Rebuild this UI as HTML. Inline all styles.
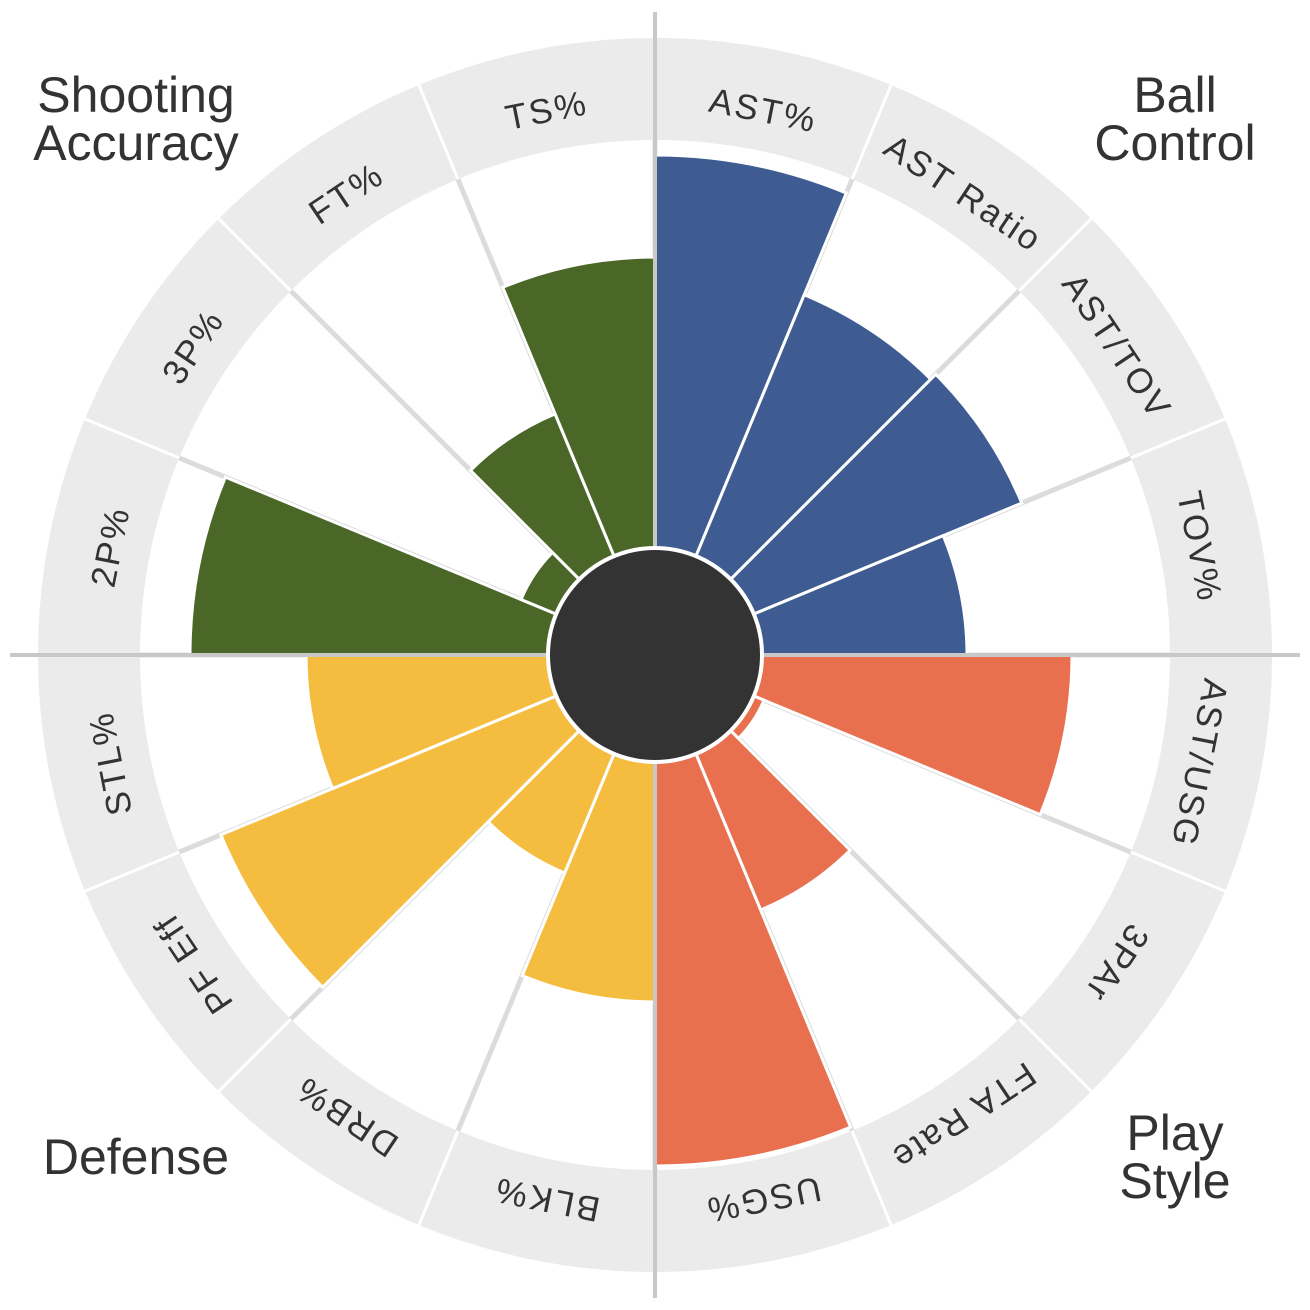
<!DOCTYPE html>
<html><head><meta charset="utf-8"><style>
html,body{margin:0;padding:0;background:#fff;}
svg{display:block;}
text{font-family:"Liberation Sans",sans-serif;fill:#333;}
</style></head><body>
<svg id="s" width="1310" height="1310" viewBox="0 0 1310 1310" xmlns="http://www.w3.org/2000/svg">
<circle cx="655" cy="655" r="617" fill="#ebebeb"/>
<circle cx="655" cy="655" r="515" fill="#fff"/>
<g id="seps"></g>
<g id="bars"></g>
<line x1="655" y1="12" x2="655" y2="1298" stroke="#c8c8c8" stroke-width="4"/>
<line x1="10" y1="655" x2="1300" y2="655" stroke="#c8c8c8" stroke-width="4"/>
<circle cx="655" cy="655" r="107" fill="#333" stroke="#fff" stroke-width="4"/>
<g font-size="35" letter-spacing="2.5" text-anchor="middle" dominant-baseline="central">
<text x="655" y="655" transform="rotate(11.25 655 655) translate(0 -555)">AST%</text>
<text x="655" y="655" transform="rotate(33.75 655 655) translate(0 -555)">AST Ratio</text>
<text x="655" y="655" transform="rotate(56.25 655 655) translate(0 -555)">AST/TOV</text>
<text x="655" y="655" transform="rotate(78.75 655 655) translate(0 -555)">TOV%</text>
<text x="655" y="655" transform="rotate(101.25 655 655) translate(0 -555)">AST/USG</text>
<text x="655" y="655" transform="rotate(123.75 655 655) translate(0 -555)">3PAr</text>
<text x="655" y="655" transform="rotate(146.25 655 655) translate(0 -555)">FTA Rate</text>
<text x="655" y="655" transform="rotate(168.75 655 655) translate(0 -555)">USG%</text>
<text x="655" y="655" transform="rotate(191.25 655 655) translate(0 -555)">BLK%</text>
<text x="655" y="655" transform="rotate(213.75 655 655) translate(0 -555)">DRB%</text>
<text x="655" y="655" transform="rotate(236.25 655 655) translate(0 -555)">PF Eff</text>
<text x="655" y="655" transform="rotate(258.75 655 655) translate(0 -555)">STL%</text>
<text x="655" y="655" transform="rotate(281.25 655 655) translate(0 -555)">2P%</text>
<text x="655" y="655" transform="rotate(303.75 655 655) translate(0 -555)">3P%</text>
<text x="655" y="655" transform="rotate(326.25 655 655) translate(0 -555)">FT%</text>
<text x="655" y="655" transform="rotate(348.75 655 655) translate(0 -555)">TS%</text>
</g>
<g font-size="50" text-anchor="middle">
<text x="136" y="112">Shooting</text>
<text x="136" y="160">Accuracy</text>
<text x="1175" y="112">Ball</text>
<text x="1175" y="160">Control</text>
<text x="1175" y="1150">Play</text>
<text x="1175" y="1198">Style</text>
<text x="136" y="1174">Defense</text>
</g>
</svg>
<script>
(function(){
var cx=655,cy=655,NS="http://www.w3.org/2000/svg";
function pt(r,a){a=a*Math.PI/180;return [cx+r*Math.sin(a),cy-r*Math.cos(a)];}
var seps=document.getElementById('seps'),bars=document.getElementById('bars');
for(var k=0;k<16;k++){
 var a=k*22.5;
 var p1=pt(107,a),p2=pt(515,a),p3=pt(620,a);
 var l=document.createElementNS(NS,'line');
 l.setAttribute('x1',p1[0]);l.setAttribute('y1',p1[1]);l.setAttribute('x2',p2[0]);l.setAttribute('y2',p2[1]);
 l.setAttribute('stroke','#dcdcdc');l.setAttribute('stroke-width','5');seps.appendChild(l);
 var l2=document.createElementNS(NS,'line');
 l2.setAttribute('x1',p2[0]);l2.setAttribute('y1',p2[1]);l2.setAttribute('x2',p3[0]);l2.setAttribute('y2',p3[1]);
 l2.setAttribute('stroke','#fff');l2.setAttribute('stroke-width','3');seps.appendChild(l2);
}
var B='#3e5c91',O='#e8704f',Y='#f4bd40',G='#4a6728';
var data=[[500,B],[390,B],[397,B],[312,B],[417,O],[118,O],[276,O],[511,O],[347,Y],[236,Y],[470,Y],[349,Y],[465,G],[145,G],[261,G],[398,G]];
data.forEach(function(d,k){
 var a0=k*22.5,a1=a0+22.5,r=d[0];
 var p0=pt(r,a0),p1=pt(r,a1);
 var path=document.createElementNS(NS,'path');
 path.setAttribute('d','M'+cx+' '+cy+' L'+p0[0]+' '+p0[1]+' A'+r+' '+r+' 0 0 1 '+p1[0]+' '+p1[1]+' Z');
 path.setAttribute('fill',d[1]);path.setAttribute('stroke','#fff');path.setAttribute('stroke-width','3');
 bars.appendChild(path);
});
})();
</script>
</body></html>
